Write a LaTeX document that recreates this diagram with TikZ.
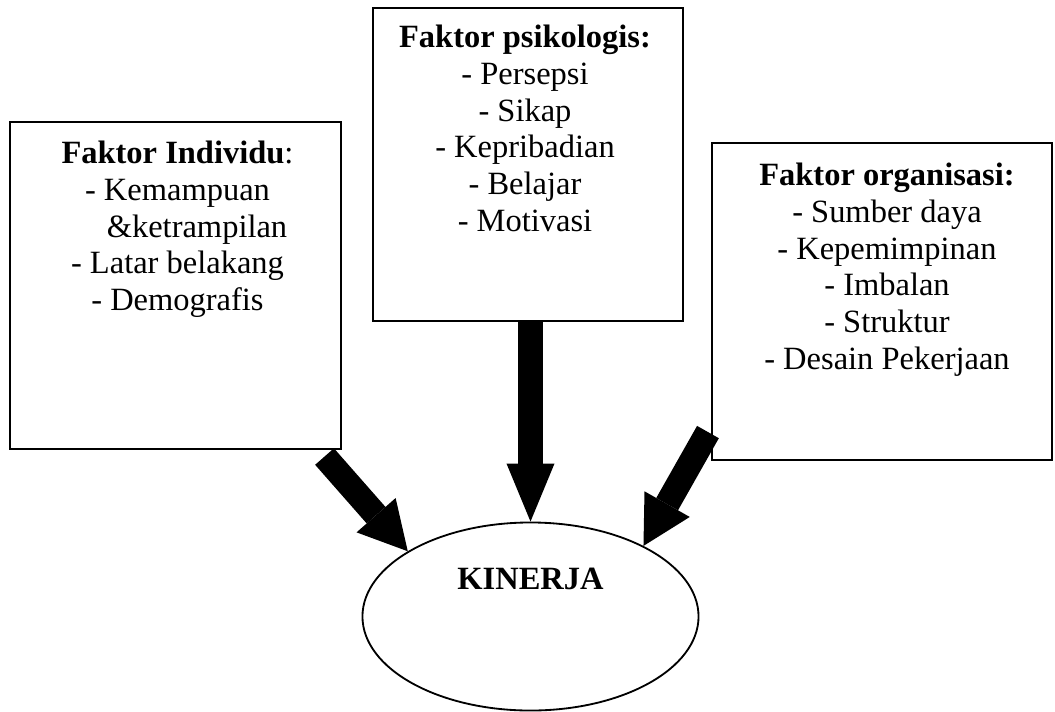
\documentclass[tikz,border=0pt]{standalone}
\usepackage{fontspec}
\setmainfont{Liberation Serif}
\usetikzlibrary{arrows.meta,shapes.geometric}

\begin{document}
\begin{tikzpicture}[x=0.025cm,y=-0.025cm,
  kotak/.style={draw,line width=1.3pt,inner sep=0,outer sep=0},
  isi/.style={anchor=north,align=center,inner sep=0,
    font=\fontsize{23.1}{26.1}\selectfont},
  panah/.style={line width=0.625cm,
    -{Triangle[length=1.2cm,width=1.3cm,line width=0pt]}}]
 \useasboundingbox (0,0) rectangle (1055,712);
 % kotak faktor
 \node[kotak,minimum width=8.275cm,minimum height=8.175cm] (indiv) at (175.5,285.5) {};
 \node[kotak,minimum width=7.75cm,minimum height=7.825cm] (psiko) at (528,164.5) {};
 \node[kotak,minimum width=8.5cm,minimum height=7.925cm] (org) at (882,301.5) {};
 \node[isi] (indivisi) at ([shift={(2,19)}]indiv.north)
  {\textbf{Faktor Individu}:\\- Kemampuan\\\hspace*{1.2em}\&ketrampilan\\- Latar belakang\\- Demografis};
 \node[isi] (psikoisi) at ([shift={(-3,17)}]psiko.north)
  {\textbf{Faktor psikologis:}\\- Persepsi\\- Sikap\\- Kepribadian\\- Belajar\\- Motivasi};
 \node[isi] (orgisi) at ([shift={(5,20)}]org.north)
  {\textbf{Faktor organisasi:}\\- Sumber daya\\- Kepemimpinan\\- Imbalan\\- Struktur\\- Desain Pekerjaan};
 % kinerja
 \node[draw,ellipse,line width=1.3pt,inner sep=0,minimum width=8.4cm,minimum height=4.7cm] (kinerja) at (530.5,616.5) {};
 \node[isi,anchor=base,font=\fontsize{23.1}{26.1}\selectfont\bfseries] (judul) at (530.5,589) {KINERJA};
 % panah
 \draw[panah] ([shift={(-16.5,7.5)}]indiv.south east) -- (kinerja.152);
 \draw[panah,-{Triangle[length=1.45cm,width=1.2cm,line width=0pt]}] (psiko.south -| kinerja.north) -- (kinerja.north);
 \draw[panah] ([shift={(-4,-28)}]org.south west) -- (kinerja.32);
\end{tikzpicture}
\end{document}
